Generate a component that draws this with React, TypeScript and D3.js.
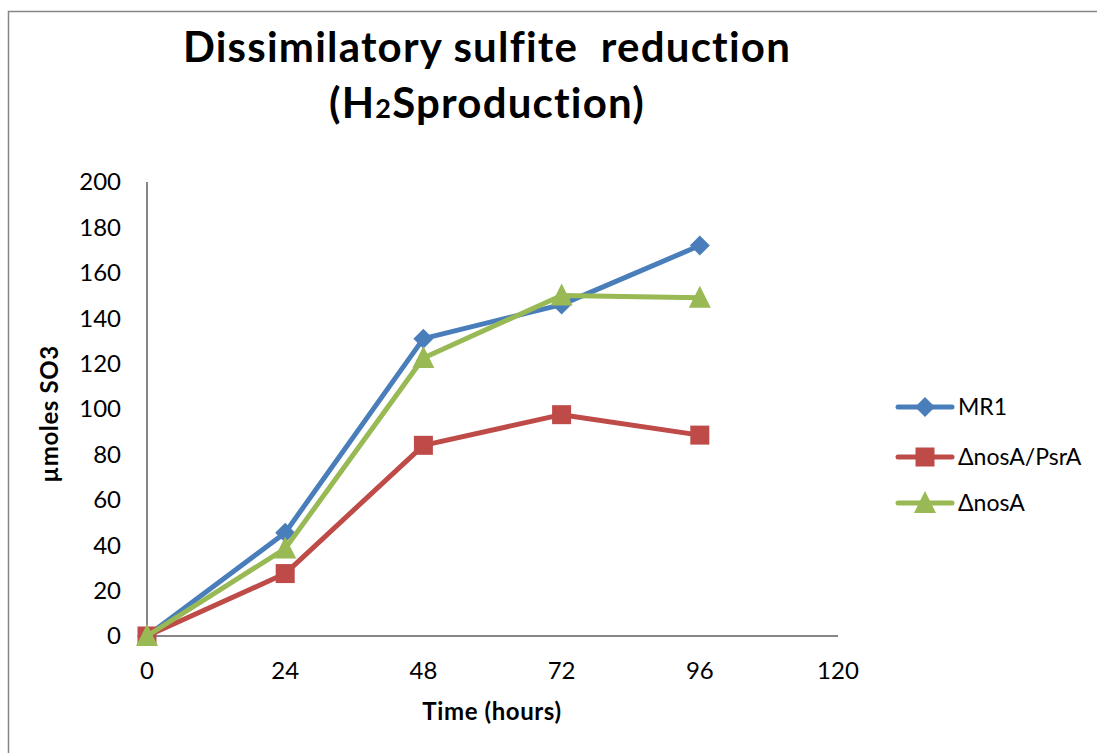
import React from "react";
import * as d3 from "d3";

const hours = [0, 24, 48, 72, 96];
const mr1 = [0, 45.5, 131, 146, 172];
const nosAPsrA = [0, 27.5, 84, 97.5, 88.5];
const nosA = [0, 38.5, 122.5, 150, 149];
const xTicks = [0, 24, 48, 72, 96, 120];
const yTicks = [0, 20, 40, 60, 80, 100, 120, 140, 160, 180, 200];
const seriesNames = ["MR1", "ΔnosA/PsrA", "ΔnosA"];
const seriesColors = ["#4a7ebb", "#be4b48", "#98b954"];
const seriesShapes = ["diamond", "square", "triangle"];

const W = 1097, H = 753;
const FONT = "Lato, 'Open Sans', sans-serif";

function marker(shape: string, x: number, y: number, color: string, key: string) {
  if (shape === "diamond") {
    const s = 10;
    return <path key={key} d={`M${x},${y - s}L${x + s},${y}L${x},${y + s}L${x - s},${y}Z`} fill={color} />;
  }
  if (shape === "square") {
    const s = 9.5;
    return <rect key={key} x={x - s} y={y - s} width={2 * s} height={2 * s} fill={color} />;
  }
  const s = 11;
  return <path key={key} d={`M${x},${y - s - 1}L${x + s},${y + s - 1}L${x - s},${y + s - 1}Z`} fill={color} />;
}

export default function App() {
  const x = d3.scaleLinear().domain([0, 120]).range([147, 838]);
  const y = d3.scaleLinear().domain([0, 200]).range([636, 182]);
  const data = [mr1, nosAPsrA, nosA];
  const line = d3.line<number>().x((_, i) => x(hours[i])).y((d) => y(d));
  const legY = [407, 457, 503];
  return (
    <svg width={W} height={H} style={{ position: "absolute", left: 0, top: 0 }} fontFamily={FONT}>
      <rect x={0} y={0} width={W} height={H} fill="#fff" />
      <rect x={8.5} y={11.5} width={1200} height={900} fill="none" stroke="#868686" strokeWidth={1.5} />
      <text x={487} y={62} textAnchor="middle" fontSize={42} fontWeight="bold" letterSpacing={1.2} style={{ whiteSpace: "pre" }}>Dissimilatory sulfite  reduction</text>
      <text x={487} y={118} textAnchor="middle" fontSize={42} fontWeight="bold" letterSpacing={1.2}>
        (H<tspan fontSize={27}>2</tspan>Sproduction)
      </text>
      <line x1={147} x2={147} y1={182} y2={636} stroke="#868686" strokeWidth={2} />
      <line x1={147} x2={838} y1={636} y2={636} stroke="#868686" strokeWidth={2} />
      {yTicks.map((t) => (
        <text key={"y" + t} x={121} y={y(t)} dy="0.35em" textAnchor="end" fontSize={24}>{t}</text>
      ))}
      {xTicks.map((t) => (
        <text key={"x" + t} x={x(t)} y={671} dy="0.35em" textAnchor="middle" fontSize={24}>{t}</text>
      ))}
      <text x={492} y={720} textAnchor="middle" fontSize={24} fontWeight="bold" letterSpacing={0.6}>Time (hours)</text>
      <text transform="translate(58,414) rotate(-90)" textAnchor="middle" fontSize={24} fontWeight="bold" letterSpacing={0.6}>µmoles SO3</text>
      {data.map((d, si) => (
        <g key={"s" + si}>
          <path d={line(d) || ""} fill="none" stroke={seriesColors[si]} strokeWidth={5} strokeLinejoin="round" />
          {d.map((v, i) => marker(seriesShapes[si], x(hours[i]), y(v), seriesColors[si], `m${si}-${i}`))}
        </g>
      ))}
      {seriesNames.map((n, si) => (
        <g key={"l" + si}>
          <line x1={898} x2={952} y1={legY[si]} y2={legY[si]} stroke={seriesColors[si]} strokeWidth={5} strokeLinecap="round" />
          {marker(seriesShapes[si], 925, legY[si], seriesColors[si], "lm" + si)}
          <text x={958} y={legY[si]} dy="0.35em" fontSize={23}>{n}</text>
        </g>
      ))}
    </svg>
  );
}
